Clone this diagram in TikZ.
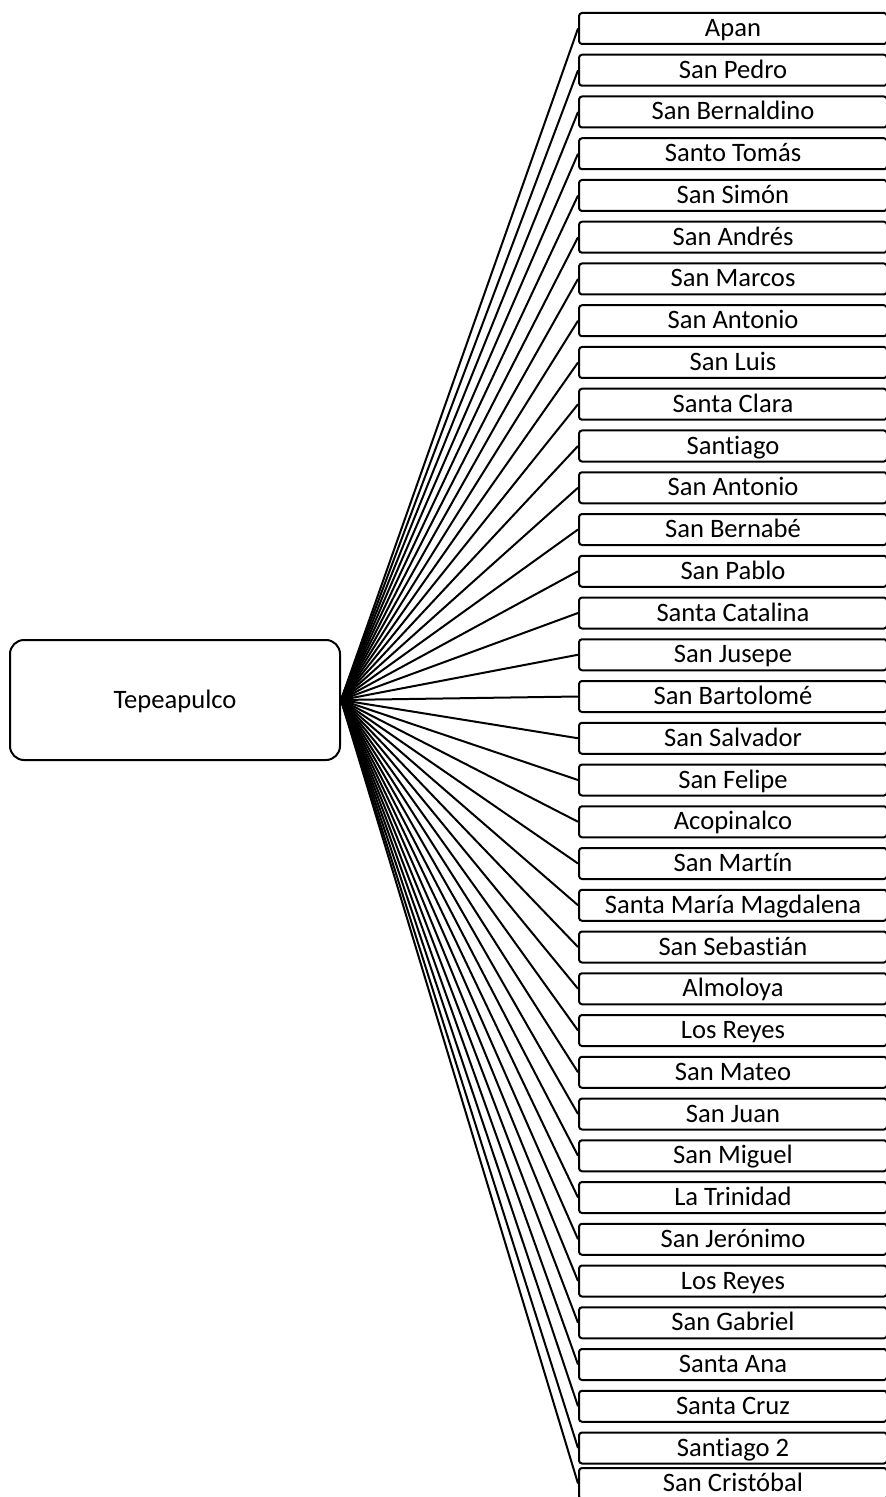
\documentclass[tikz,border=0pt]{standalone}
\usepackage{fontspec}
\setmainfont{Carlito}[RawFeature={-liga,-clig,-calt,-dlig}]
\begin{document}
\begin{tikzpicture}[x=0.5pt,y=-0.5pt,
		town/.style={draw,line width=1pt,rounded corners=7pt,minimum width=165pt,minimum height=60pt,inner sep=0pt,text height=10.5pt,text depth=2.5pt,font=\fontsize{13.3}{15}\selectfont},
		village/.style={draw,line width=1pt,rounded corners=1.5pt,minimum width=154pt,minimum height=15.5pt,inner sep=0pt,text height=10.5pt,text depth=2.5pt,font=\fontsize{13.3}{15}\selectfont},
		branch/.style={line width=1pt}]
			\useasboundingbox (0,0) rectangle (885,1497);
			\node[town] (tepe) at (175,700) {Tepeapulco};
			\foreach \name [count=\i from 0] in {Apan,San Pedro,San Bernaldino,Santo Tomás,San Simón,San Andrés,San Marcos,San Antonio,San Luis,Santa Clara,Santiago,San Antonio,San Bernabé,San Pablo,Santa Catalina,San Jusepe,San Bartolomé,San Salvador,San Felipe,Acopinalco,San Martín,Santa María Magdalena,San Sebastián,Almoloya,Los Reyes,San Mateo,San Juan,San Miguel,La Trinidad,San Jerónimo,Los Reyes,San Gabriel,Santa Ana,Santa Cruz,Santiago 2} {
				\pgfmathsetmacro{\yy}{28.5+41.75*\i}
				\node[village] (v\i) at (733,\yy) {\name};
				\draw[branch] (tepe.east) -- (v\i.west);
			}
			\node[village] (v35) at (733,1483.5) {San Cristóbal};
			\draw[branch] (tepe.east) -- (v35.west);
		\end{tikzpicture}
\end{document}
